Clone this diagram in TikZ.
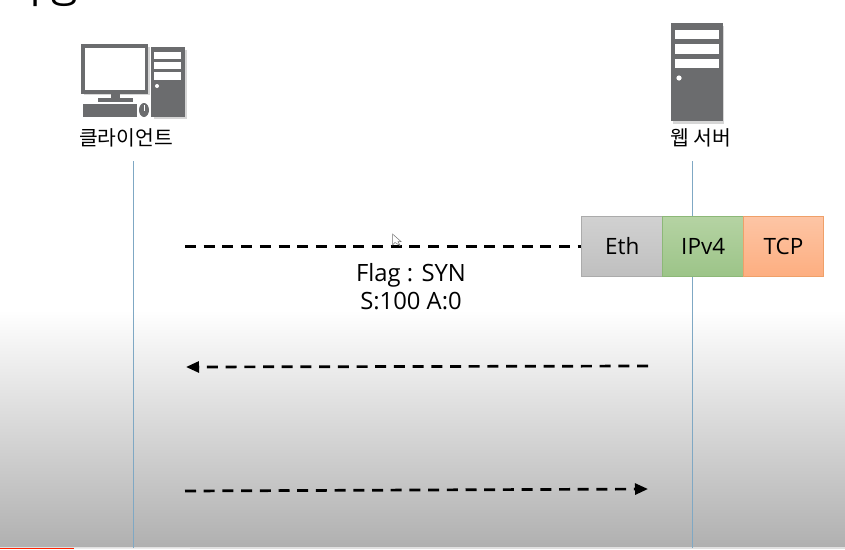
\documentclass[tikz,border=0pt]{standalone}
\usepackage{fontspec}
\setmainfont{Open Sans}
\newfontfamily\kr{Noto Sans CJK KR}
\usetikzlibrary{arrows.meta}
\definecolor{icon}{HTML}{6B6C6E}
\definecolor{lifeline}{HTML}{7FA8C4}
\definecolor{IPtop}{HTML}{B5D3A3}
\definecolor{IPbot}{HTML}{9CC488}
\definecolor{IPdraw}{HTML}{8DB878}
\definecolor{TCPtop}{HTML}{FDC5A5}
\definecolor{TCPbot}{HTML}{FDAE80}
\definecolor{TCPdraw}{HTML}{EFA069}
\tikzset{x=1pt,y=-1pt,
 lifeln/.style={draw=lifeline,line width=0.9pt},
 msg/.style={draw=black,line width=2.7pt,dash pattern=on 11pt off 7.7pt},
 tip/.style={-{Triangle[length=13pt,width=11pt]}},
 hdr/.style={minimum width=81.5pt,minimum height=60pt,inner sep=0pt,anchor=north west,line width=0.9pt,font=\fontsize{22.5}{24}\selectfont},
 lab/.style={font=\kr\fontsize{20.4}{24}\selectfont,text=black,inner sep=0pt},
 icn/.style={fill=icon,draw=none},
 hole/.style={fill=white,draw=none},
 shadow/.style={fill=black!16,draw=none}}
\begin{document}
\begin{tikzpicture}
\useasboundingbox (0,0) rectangle (845,549);
% background
\fill[white] (0,0) rectangle (845,549);
\shade[top color=white,bottom color=black!31,shading angle=0] (0,310) rectangle (845,547);
\fill[black!12] (0,547) rectangle (845,549);
\fill[black!8] (74,547.5) rectangle (190,549);
\fill[red!75!orange] (0,547.5) rectangle (74,549);
% clipped title
\begin{scope}
\clip (0,0) rectangle (845,549);
\node[font=\kr\fontsize{40}{44}\selectfont,anchor=base west,inner sep=0pt] (title) at (7,3) {과정};
\end{scope}
% client icon
\fill[shadow] (84,47) rectangle (150,95);
\fill[shadow] (154,50) rectangle (187,119);
\fill[icn] (81,44) rectangle (148,94);
\fill[hole] (85,48) rectangle (145,90);
\fill[icn] (111,93) rectangle (120,98);
\fill[icn] (98,98) rectangle (133,102);
\fill[icn] (83,104) rectangle (137,117);
\fill[icn] (144,110) ellipse (5pt and 7pt);
\fill[white] (143.5,105) rectangle (144.5,111);
\fill[icn] (151,47) rectangle (185,117);
\fill[hole] (154,52) rectangle (181,59);
\fill[hole] (154,62) rectangle (181,69);
\fill[hole] (154,72) rectangle (181,80);
\fill[white] (157,86) circle (2pt);
% server icon
\fill[shadow] (673,26) rectangle (724,124);
\fill[icn] (671,23) rectangle (723,121);
\fill[hole] (675,30) rectangle (719,39);
\fill[hole] (675,44) rectangle (719,54);
\fill[hole] (675,59) rectangle (719,68);
\fill[white] (679,78) circle (2.6pt);
% labels
\node[lab] (client) at (126,138) {클라이언트};
\node[lab] (server) at (701,138) {웹 서버};
% lifelines
\coordinate (c1) at (133.5,161);
\coordinate (c2) at (133.5,548);
\coordinate (s1) at (692.5,161);
\coordinate (s2) at (692.5,548);
\draw[lifeln] (c1) -- (c2);
\draw[lifeln] (s1) -- (s2);
% header
\node[hdr,top color=black!18,bottom color=black!25,draw=black!33] (eth) at (581,216) {Eth};
\node[hdr,top color=IPtop,bottom color=IPbot,draw=IPdraw] (ip) at (662,216) {IPv4};
\node[hdr,top color=TCPtop,bottom color=TCPbot,draw=TCPdraw,minimum width=80pt] (tcp) at (743,216) {TCP};
% messages
\coordinate (m1a) at (185,246.3);
\draw[msg] (m1a) -- (eth.west |- m1a);
\coordinate (m2a) at (648,366);
\coordinate (m2b) at (186,367);
\draw[msg,tip] (m2a) -- (m2b);
\coordinate (m3a) at (185,491);
\coordinate (m3b) at (648,489);
\draw[msg,tip] (m3a) -- (m3b);
% text
\node[font=\fontsize{23.8}{28}\selectfont,align=center,inner sep=0pt] (flag) at (411,287) {Flag : SYN\\S:100 A:0};
% cursor
\coordinate (cur) at (392.5,234);
\draw[black!55,fill=white,line width=0.5pt] (cur) -- ++(0,11) -- ++(2.5,-2.5) -- ++(5,3) -- ++(-2,-4) -- ++(3,0) -- cycle;
\end{tikzpicture}
\end{document}
